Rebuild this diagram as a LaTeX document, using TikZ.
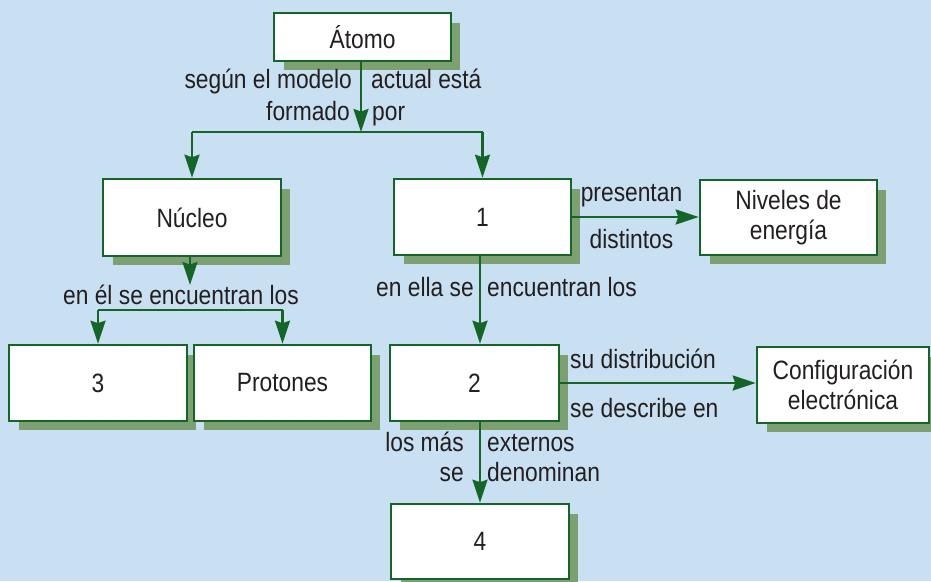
\documentclass[tikz,border=0pt]{standalone}
\usepackage{fontspec}
\setmainfont{Liberation Sans}[FakeStretch=0.86]
\usetikzlibrary{arrows.meta,backgrounds,calc}
\definecolor{bgc}{RGB}{200,224,241}
\definecolor{grn}{RGB}{22,101,40}
\definecolor{shd}{RGB}{125,160,115}
\definecolor{txt}{RGB}{35,31,32}
\tikzset{
  box/.style={draw=grn, line width=2.6pt, fill=white, inner sep=0pt, align=center,
    font=\fontsize{26.5}{30.5}\selectfont, text=txt},
  lbl/.style={inner sep=0pt, font=\fontsize{26.5}{30}\selectfont, text=txt},
  conn/.style={draw=grn, line width=2.5pt},
  arr/.style={conn, -{Stealth[length=23pt,width=15pt,inset=2.5pt]}},
}
\newcommand{\boxshadow}[1]{\fill[shd] ($(#1.north west)+(11,11)$) rectangle ($(#1.south east)+(7.5,7.5)$);}
\begin{document}
\begin{tikzpicture}[x=1pt,y=-1pt]
\useasboundingbox (0,0) rectangle (931,581);
% boxes
\node[box, minimum width=177, minimum height=48] (atomo) at (362.5,37) {Átomo};
\node[box, minimum width=178, minimum height=77] (nucleo) at (192,217.5) {Núcleo};
\node[box, minimum width=177, minimum height=76] (one) at (482.5,217) {1};
\node[box, minimum width=177, minimum height=75] (niveles) at (788.5,217.5) {Niveles de\\energía};
\node[box, minimum width=178, minimum height=76] (three) at (98,383) {3};
\node[box, minimum width=177, minimum height=76] (protones) at (282.5,383) {Protones};
\node[box, minimum width=169, minimum height=76] (two) at (474.5,383) {2};
\node[box, minimum width=172, minimum height=76] (config) at (843,385) {Configuración\\electrónica};
\node[box, minimum width=178, minimum height=75] (four) at (480,541.5) {4};
\begin{pgfonlayer}{background}
  \fill[bgc] (0,0) rectangle (931,581);
  \boxshadow{atomo}
  \boxshadow{nucleo}
  \boxshadow{one}
  \boxshadow{niveles}
  \boxshadow{three}
  \boxshadow{protones}
  \boxshadow{two}
  \boxshadow{config}
  \boxshadow{four}
\end{pgfonlayer}
% junctions
\coordinate (j1) at (361,132);
\coordinate (k1) at (190,285);
\coordinate (k2) at (190,310);
% connectors
\draw[arr] (atomo.south -| j1) -- (j1);
\draw[conn] (nucleo.north |- j1) -- (one.north |- j1);
\draw[arr] (nucleo.north |- j1) -- (nucleo.north);
\draw[arr] (one.north |- j1) -- (one.north);
\draw[arr] (nucleo.south -| k1) -- (k1);
\draw[conn] (three.north |- k2) -- (protones.north |- k2);
\draw[arr] (three.north |- k2) -- (three.north);
\draw[arr] (protones.north |- k2) -- (protones.north);
\draw[arr] (one.east) -- (one.east -| niveles.west);
\draw[arr] ([xshift=-2.5]one.south) -- ([xshift=-2.5]one.south |- two.north);
\draw[arr] (two.east) -- (two.east -| config.west);
\draw[arr] (two.south -| four.north) -- (four.north);
% labels
\node[lbl, anchor=base east] (l1) at (352,88) {según el modelo};
\node[lbl, anchor=base west] (l2) at (371,88) {actual está};
\node[lbl, anchor=base east] (l3) at (350,120) {formado};
\node[lbl, anchor=base west] (l4) at (372,120) {por};
\node[lbl, anchor=base] (l5) at (181,304) {en él se encuentran los};
\node[lbl, anchor=base] (l6) at (631.5,201.5) {presentan};
\node[lbl, anchor=base] (l7) at (631.5,248) {distintos};
\node[lbl, anchor=base east] (l8) at (474,296) {en ella se};
\node[lbl, anchor=base west] (l9) at (487,296) {encuentran los};
\node[lbl, anchor=base west] (l10) at (570,368) {su distribución};
\node[lbl, anchor=base west] (l11) at (570,417) {se describe en};
\node[lbl, anchor=base east] (l12) at (464,451.5) {los más};
\node[lbl, anchor=base east] (l13) at (464,481.5) {se};
\node[lbl, anchor=base west] (l14) at (487,451.5) {externos};
\node[lbl, anchor=base west] (l15) at (487,481.5) {denominan};
\end{tikzpicture}
\end{document}
